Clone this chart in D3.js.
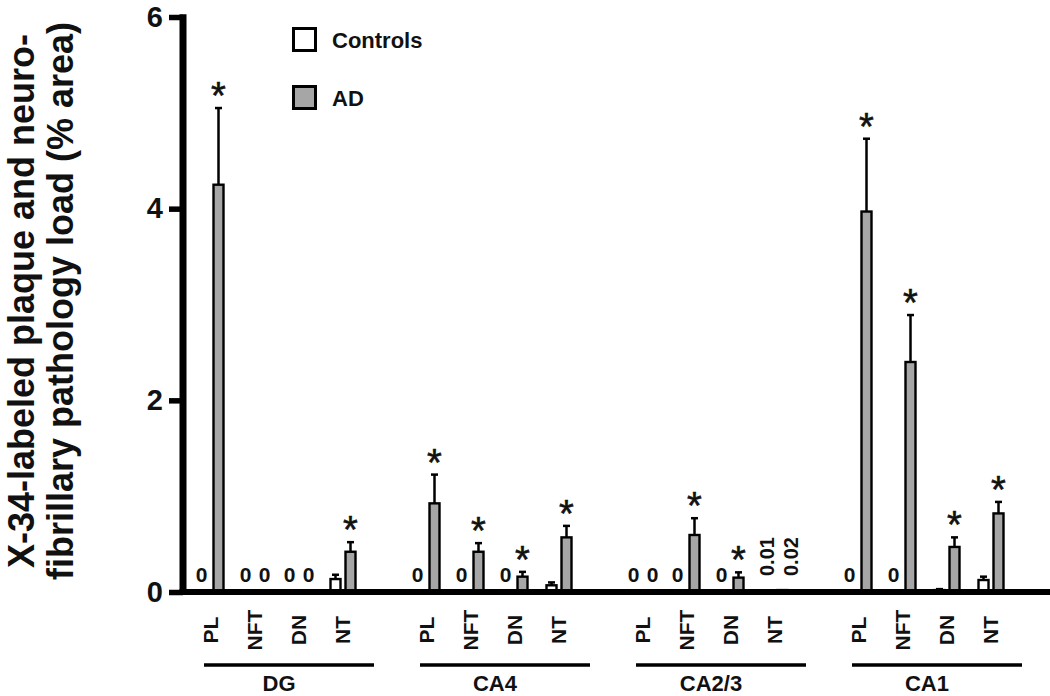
<!DOCTYPE html>
<html>
<head>
<meta charset="utf-8">
<script src="https://cdn.jsdelivr.net/npm/d3@7"></script>
<style>
  html, body { margin: 0; padding: 0; background: #fff; }
  svg { display: block; }
  text { font-family: "Liberation Sans", Arial, sans-serif; }
</style>
</head>
<body>
<svg id="chart" width="1050" height="696"></svg>
<script>
// ---- data ----
const groups = ["DG", "CA4", "CA2/3", "CA1"];
const measures = ["PL", "NFT", "DN", "NT"];
const seriesNames = ["Controls", "AD"];
// values in group order (DG, CA4, CA2/3, CA1), each PL, NFT, DN, NT
const controlMean = [0, 0, 0, 0.135,  0, 0, 0, 0.07,   0, 0, 0, 0.01,  0, 0, 0.02, 0.125];
const controlSem  = [0, 0, 0, 0.045,  0, 0, 0, 0.03,   0, 0, 0, 0,     0, 0, 0.01, 0.035];
const adMean      = [4.25, 0, 0, 0.42,  0.925, 0.42, 0.16, 0.57,  0, 0.595, 0.15, 0.02,  3.97, 2.40, 0.47, 0.82];
const adSem       = [0.80, 0, 0, 0.10,  0.30, 0.09, 0.05, 0.12,   0, 0.175, 0.055, 0,    0.76, 0.49, 0.10, 0.12];
const significant = [1, 0, 0, 1,  1, 1, 1, 1,  0, 1, 1, 0,  1, 1, 1, 1];
// cells whose tiny values are written out instead of "0"
const writtenValues = [{ index: 11, control: "0.01", ad: "0.02" }];
const yTicks = [0, 2, 4, 6];
const yTitle = ["X-34-labeled plaque and neuro-", "fibrillary pathology load (% area)"];

// ---- build rows ----
const rows = [];
groups.forEach((g, gi) => measures.forEach((m, mi) => {
  const i = gi * measures.length + mi;
  rows.push({ i, group: g, measure: m, key: "Controls", mean: controlMean[i], sem: controlSem[i], sig: 0 });
  rows.push({ i, group: g, measure: m, key: "AD", mean: adMean[i], sem: adSem[i], sig: significant[i] });
}));

const svg = d3.select("#chart");
const colors = { Controls: "#ffffff", AD: "#a6a6a6" };

// ---- scales ----
const y = d3.scaleLinear().domain([0, 6]).range([592, 17]);
const xGroup = d3.scalePoint().domain(groups).range([277, 925]);
const xMeasure = d3.scalePoint().domain(measures).range([-66, 66]);
const xSeries = d3.scaleBand().domain(seriesNames).range([-12.5, 12.5]).paddingInner(1 / 3);
const catX = (g, m) => xGroup(g) + xMeasure(m);
const barX = d => catX(d.group, d.measure) + xSeries(d.key);
const barC = d => barX(d) + xSeries.bandwidth() / 2;

const axisX = 183;

// ---- y axis title ----
yTitle.forEach((t, k) => {
  svg.append("text")
    .attr("transform", `translate(${34 + k * 39},301) rotate(-90)`)
    .attr("text-anchor", "middle")
    .attr("font-size", 36).attr("font-weight", "bold").attr("fill", "#111")
    .text(t);
});

// ---- y axis ----
const yAxis = d3.axisLeft(y).tickValues(yTicks).tickSize(14).tickPadding(6).tickFormat(d3.format("d"));
const gy = svg.append("g").attr("transform", `translate(${axisX},0)`).call(yAxis);
gy.select(".domain").remove();
gy.selectAll(".tick line").style("stroke", "#000").style("stroke-width", "5.5px");
gy.selectAll(".tick text").style("font-size", "29px").style("font-weight", "bold").style("fill", "#111")
  .style("font-family", "Liberation Sans, Arial, sans-serif");
svg.append("rect").attr("x", axisX - 3.5).attr("y", y(6) - 2.75).attr("width", 7).attr("height", y(0) - y(6) + 2.75)
  .attr("fill", "#000");

// ---- error bars ----
const withErr = rows.filter(d => d.sem > 0);
svg.append("g").selectAll("line").data(withErr).join("line")
  .attr("x1", barC).attr("x2", barC)
  .attr("y1", d => y(d.mean)).attr("y2", d => y(d.mean + d.sem))
  .attr("stroke", "#000").attr("stroke-width", 2.5);
svg.append("g").selectAll("line").data(withErr).join("line")
  .attr("x1", d => barC(d) - 3.5).attr("x2", d => barC(d) + 3.5)
  .attr("y1", d => y(d.mean + d.sem)).attr("y2", d => y(d.mean + d.sem))
  .attr("stroke", "#000").attr("stroke-width", 2.5);

// ---- bars ----
svg.append("g").selectAll("rect").data(rows.filter(d => d.mean > 0)).join("rect")
  .attr("x", barX).attr("width", xSeries.bandwidth())
  .attr("y", d => y(d.mean)).attr("height", d => y(0) - y(d.mean))
  .attr("fill", d => colors[d.key]).attr("stroke", "#000").attr("stroke-width", 2.4);

// ---- x baseline ----
svg.append("rect").attr("x", axisX - 3.5).attr("y", y(0) - 3).attr("width", 1050 - axisX + 3.5).attr("height", 6)
  .attr("fill", "#000");

// ---- zero labels ----
svg.append("g").selectAll("text").data(rows.filter(d => d.mean === 0)).join("text")
  .attr("x", d => barC(d) + (d.key === "Controls" ? -2 : 2))
  .attr("y", 582).attr("text-anchor", "middle")
  .attr("font-size", 21).attr("font-weight", "bold").attr("fill", "#111")
  .text("0");

// ---- written small values ----
writtenValues.forEach(w => {
  rows.filter(d => d.i === w.index).forEach(d => {
    const label = d.key === "Controls" ? w.control : w.ad;
    svg.append("text")
      .attr("transform", `translate(${barC(d) + (d.key === "Controls" ? -1 : 8)},576) rotate(-90)`)
      .attr("dy", "0.35em").attr("text-anchor", "start")
      .attr("font-size", 20).attr("font-weight", "bold").attr("fill", "#111")
      .text(label);
  });
});

// ---- significance asterisks ----
svg.append("g").selectAll("text").data(rows.filter(d => d.sig)).join("text")
  .attr("x", barC).attr("y", d => y(d.mean + d.sem) + 1)
  .attr("text-anchor", "middle").attr("font-size", 38).attr("fill", "#111")
  .attr("stroke", "#111").attr("stroke-width", 0.6)
  .text("*");

// ---- category labels ----
groups.forEach(g => measures.forEach(m => {
  svg.append("text")
    .attr("transform", `translate(${catX(g, m)},630) rotate(-90)`)
    .attr("dy", "0.35em").attr("text-anchor", "middle")
    .attr("font-size", 21).attr("font-weight", "bold").attr("fill", "#111")
    .text(m);
}));

// ---- group brackets and labels ----
groups.forEach(g => {
  const c = xGroup(g);
  svg.append("line").attr("x1", c - 73).attr("x2", c + 97).attr("y1", 665).attr("y2", 665)
    .attr("stroke", "#000").attr("stroke-width", 3.5);
  svg.append("text").attr("x", c + 2).attr("y", 691).attr("text-anchor", "middle")
    .attr("font-size", 22).attr("font-weight", "bold").attr("fill", "#111")
    .text(g);
});

// ---- legend ----
seriesNames.forEach((s, k) => {
  const ly = 28.5 + k * 58;
  svg.append("rect").attr("x", 293.5).attr("y", ly).attr("width", 22).attr("height", 22)
    .attr("fill", colors[s]).attr("stroke", "#000").attr("stroke-width", 3);
  svg.append("text").attr("x", 332).attr("y", ly + 19.5)
    .attr("font-size", 22).attr("font-weight", "bold").attr("fill", "#111")
    .text(s);
});
</script>
</body>
</html>
